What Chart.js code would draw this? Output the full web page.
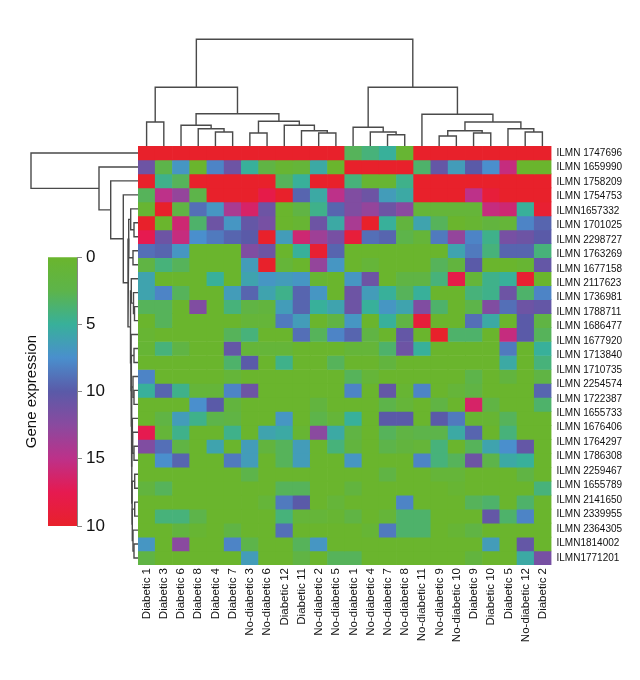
<!DOCTYPE html>
<html>
<head>
<meta charset="utf-8">
<title>Gene expression heatmap</title>
<script src="https://cdn.jsdelivr.net/npm/chart.js@4"></script>
<style>
  body { margin: 0; background: #fff; }
  #page { position: relative; width: 640px; height: 680px; overflow: hidden; }
  canvas { position: absolute; }
  #heat { left: 0; top: 0; }
  #topTree { left: 138px; top: 25px; }
  #leftTree { left: 20px; top: 146px; }
  #bar { left: 0; top: 235px; }
</style>
</head>
<body>
<div id="page">
  <canvas id="topTree" width="413" height="121"></canvas>
  <canvas id="leftTree" width="118" height="419"></canvas>
  <canvas id="heat" width="640" height="680"></canvas>
  <canvas id="bar" width="138" height="310"></canvas>
</div>
<script>
const sampleLabels = ['Diabetic 1','Diabetic 3','Diabetic 6','Diabetic 8','Diabetic 4','Diabetic 7','No-diabetic 3','No-diabetic 6','Diabetic 12','Diabetic 11','No-diabetic 2','No-diabetic 5','No-diabetic 1','No-diabetic 4','No-diabetic 7','No-diabetic 8','No-diabetic 11','No-diabetic 9','No-diabetic 10','Diabetic 9','Diabetic 10','Diabetic 5','No-diabetic 12','Diabetic 2'];

// the original figure prints 29 names next to 30 rows of cells
const geneLabels = ['ILMN 1747696','ILMN 1659990','ILMN 1758209','ILMN 1754753','ILMN1657332','ILMN 1701025','ILMN 2298727','ILMN 1763269','ILMN 1677158','ILMN 2117623','ILMN 1736981','ILMN 1788711','ILMN 1686477','ILMN 1677920','ILMN 1713840','ILMN 1710735','ILMN 2254574','ILMN 1722387','ILMN 1655733','ILMN 1676406','ILMN 1764297','ILMN 1786308','ILMN 2259467','ILMN 1655789','ILMN 2141650','ILMN 2339955','ILMN 2364305','ILMN1814002','ILMN1771201'];

const expression = [
  [20,20,20,20,20,20,20,20,20,20,20,20,3,4,5,0.5,20,20,20,20,20,20,20,20],
  [11,2.5,7,0,8,11,5,2,0.5,1,5.5,0,20,20,20,20,3.5,10.5,6.5,10,7.5,15.5,0,0],
  [20,4.5,3,20,20,20,20,20,3,5,20,20,4,0.5,0.5,4.5,20,20,20,20,20,20,20,20],
  [3,15,13,2.5,20,20,20,18,20,9.5,5.5,15,12,11,6.5,5.5,20,20,20,15,19,20,20,20],
  [0.5,20,2,9,7,14,16.5,11,0,2,4.5,9.5,12,13,11,12.5,1,1,1,1,15.5,16,5,19.5],
  [20,0,16,3.5,11,7,10.5,11.5,0,0.5,11,5.5,14,20,5,1.5,6,3,0,0.5,1.5,1,8,9.5],
  [17.5,11,15.5,7.5,8.5,9.5,10,20,6.5,16,13.5,11.5,19,9,9.5,2.5,1,8.5,13,8,4.5,11.5,11,10],
  [9,9.5,7,0,0,0,12,11,0,5,19.5,9.5,0,0,0,0,0,0,6,8.5,4,9.5,9.5,4],
  [2,4,3,0,0,0,6.5,20,1,0,13,7,0,1,0,0,0,3,1.5,10,0,0,0.5,10.5],
  [6,0,0,0,5,0,6,7,6.5,7,0.5,0,7,11,0,2,2,4,18,1,4.5,5,19.5,0],
  [6,8,3,0,0,6.5,9.5,6,4.5,9.5,7,0,11,6.5,5,3,5,0,0,4,4.5,11,3.5,8],
  [3,3,0,12,0,4,2,1.5,6.5,9.5,5,6,11,5,7,6,12,3.5,0,2.5,12,9,11,10.5],
  [0,3,0,0,0,0,1,1,8.5,6.5,0,2,7,0,5,2,19,0,0,9,5.5,0,10,2],
  [0.5,0,0,0,0,3,4,0,0,9,3,8,9.5,2,0,10.5,0,20,3.5,3.5,0,15.5,10,3],
  [0.7,4,2,0,0,10.5,1,1,1,0,0,0,1,1,3.5,11,5,0,0,0,0,8.5,0,5],
  [0,0,0,0,0,3.5,10,0,4.5,0,0,3,0,0,1.5,0,0,0,0,0,0,5.5,0,4],
  [8,0,0,0,0,1,0,0,0,0,0,0,3,1,0,0,0,0,0,2.5,0,1.5,0,2],
  [5,9.5,4.5,1,1,8,11,0,0,0,0,0,8,0,10.5,0.5,8,0,1,2,0,0,0,9.5],
  [0,0,0,7.5,10,1.5,0,0,0,0,1.5,0,0,0,2.5,1,0,2,0,16.5,2,0,0,3.5],
  [0,2,6.5,4.5,2.5,2,0,0,7,0,2.5,1,5,0,10,10,0,10,8.5,0.5,0.5,3,0,0],
  [17.5,1,4.5,0,0,4.5,0,6,5.5,0.5,12.5,5.5,2,0,3,2,2.5,2.5,5.5,9.5,0,4,0,0],
  [12,9,2,0,6,0,6.5,1.5,3,6.5,0,4,1.5,0,2.5,1.5,1,4,0,3,6,7.5,10.5,0],
  [0,7.5,9.5,0,0,8.5,6.5,0,3,6.5,0,0,7,0,0,0,8,4,3,11,2.5,5.5,5,0],
  [0,0,0,0,0,0,2.5,0,0,0,0,0,0,0,2,0,0,1,1,0,0,0,2,0],
  [1.5,3,0,0,0,0,0,0,3,3,0,0,1.5,0,0,0,0,0,0.5,0,0,0,0,4],
  [0,0,0,0,0,0,0,1,8.5,10,0,1,0,0,0,8,0,0,0,3,3.5,0,3.5,0],
  [0,4,4,2.5,0,0,0,0,4,1,1,0.5,2,0,1,3.5,3.5,0,0,0,10.5,3.5,8,0],
  [0,0,1.5,0.5,0,2,0,0,9,0,0,0,0,0.7,8.5,3.5,3.5,0,0.7,2,0,0,0,0],
  [7,0,12.5,0,0,8,2.5,0,0,3,7,0,0,0,0,0,0,0,0,0,6.5,0,10.5,0],
  [2,0,0,0,0,0,6.5,0,0,2,0,3,3,0,0,0,0,0,0,1.5,0,0,5.5,11.5]
];

const scaleStops = [0,2.5,5,7.5,10,12.5,15,17.5,20];
const scaleColors = ['#6ab52d','#5db44a','#38b09a','#4a8fcd','#5a5aa8','#8a4a9f','#bd3189','#e61a50','#e8212b'];
const scaleTicks = ['0','5','10','15','10'];

// merges are written the way R's hclust does: negative = leaf, positive = earlier merge
const topLeftChild = [-1,-5,-4,-3,-7,-11,-10,-9,5,4,1,-15,-14,-13,-18,-20,15,-23,-22,17,-17,14,11];
const topRightChild = [-2,-6,2,3,-8,-12,6,7,8,9,10,-16,12,13,-19,-21,16,-24,18,19,20,21,22];
const topHeights = [24,14,17.3,20.7,13,13,15.3,20.7,24.7,32.3,58.7,11.3,14,18.7,10,13,15.3,14,17.3,24,31.7,58.7,106.7];

const leftLeftChild = [-6,-5,-8,2,-12,-11,-10,-15,-29,-28,-26,11,-24,13,-22,-21,-20,17,-18,-17,20,8,-14,7,4,-4,-3,-2,-1];
const leftRightChild = [-7,1,-9,3,-13,5,6,-16,-30,9,-27,10,-25,12,-23,15,16,14,-19,19,18,21,22,23,24,25,26,27,28];
const leftHeights = [4,7.3,5,9.3,3.5,4.5,6.7,4,4,5,3.3,5.7,3.3,6,4,5.3,6,6.2,4,5,6.5,6.8,7,7.5,10,14.7,27.3,39,107];

const labelFont = "'Liberation Sans', sans-serif";

function hexToRgb(h) {
  return [1,3,5].map(function (i) { return parseInt(h.substr(i, 2), 16); });
}

function valueColor(v) {
  let i = 0;
  while (i < scaleStops.length - 2 && v > scaleStops[i + 1]) i++;
  const t = (v - scaleStops[i]) / (scaleStops[i + 1] - scaleStops[i]);
  const a = hexToRgb(scaleColors[i]), b = hexToRgb(scaleColors[i + 1]);
  const c = a.map(function (x, k) { return Math.round(x + (b[k] - x) * t); });
  return 'rgb(' + c.join(',') + ')';
}

// one dataset per row, each cell a floating bar over its row band
const heatSets = expression.map(function (row, r) {
  return {
    data: row.map(function () { return [r, r + 1]; }),
    backgroundColor: row.map(valueColor),
    borderWidth: 0,
    yAxisID: 'y'
  };
});

new Chart(document.getElementById('heat'), {
  type: 'bar',
  data: { labels: sampleLabels, datasets: heatSets },
  options: {
    responsive: false,
    animation: false,
    events: [],
    grouped: false,
    barPercentage: 1,
    categoryPercentage: 1,
    layout: { padding: { left: 138, top: 146, right: 0, bottom: 0 } },
    plugins: { legend: { display: false }, tooltip: { enabled: false } },
    scales: {
      x: {
        grid: { display: false, drawTicks: false },
        border: { display: false },
        ticks: { autoSkip: false, minRotation: 90, maxRotation: 90, padding: 3, color: '#111', font: { family: labelFont, size: 11.5 } },
        afterFit: function (s) { s.height = 115; }
      },
      y: { display: false, reverse: true, min: 0, max: expression.length },
      names: {
        type: 'category',
        labels: geneLabels,
        position: 'right',
        offset: true,
        grid: { display: false, drawTicks: false },
        border: { display: false },
        ticks: { autoSkip: false, padding: 5, color: '#111', font: { family: labelFont, size: 10 } },
        afterFit: function (s) { s.width = 88.5; }
      }
    }
  }
});

// walk the merge table and give back one U-shaped line per merge
function treeLines(leftChild, rightChild, heights, sideways) {
  const pos = [], sets = [];
  function place(id) {
    return id < 0 ? { at: -id - 1, h: 0 } : { at: pos[id - 1], h: heights[id - 1] };
  }
  heights.forEach(function (h, i) {
    const a = place(leftChild[i]), b = place(rightChild[i]);
    pos.push((a.at + b.at) / 2);
    const pts = [[a.at, a.h], [a.at, h], [b.at, h], [b.at, b.h]];
    sets.push({
      data: pts.map(function (p) { return sideways ? { x: p[1], y: p[0] } : { x: p[0], y: p[1] }; }),
      showLine: true,
      borderColor: '#4a4a4a',
      borderWidth: 1.4,
      pointRadius: 0,
      clip: false
    });
  });
  return sets;
}

new Chart(document.getElementById('topTree'), {
  type: 'scatter',
  data: { datasets: treeLines(topLeftChild, topRightChild, topHeights, false) },
  options: {
    responsive: false,
    animation: false,
    events: [],
    plugins: { legend: { display: false }, tooltip: { enabled: false } },
    scales: {
      x: { display: false, min: -0.5, max: sampleLabels.length - 0.5 },
      y: { display: false, min: 0, max: 121 }
    }
  }
});

new Chart(document.getElementById('leftTree'), {
  type: 'scatter',
  data: { datasets: treeLines(leftLeftChild, leftRightChild, leftHeights, true) },
  options: {
    responsive: false,
    animation: false,
    events: [],
    plugins: { legend: { display: false }, tooltip: { enabled: false } },
    scales: {
      x: { display: false, reverse: true, min: 0, max: 118 },
      y: { display: false, reverse: true, min: -0.5, max: expression.length - 0.5 }
    }
  }
});

function barGradient(ctx) {
  const chart = ctx.chart;
  if (!chart.chartArea) return scaleColors[0];
  const y = chart.scales.y;
  const g = chart.ctx.createLinearGradient(0, y.getPixelForValue(0), 0, y.getPixelForValue(20));
  scaleStops.forEach(function (s, i) { g.addColorStop(s / 20, scaleColors[i]); });
  return g;
}

new Chart(document.getElementById('bar'), {
  type: 'bar',
  data: {
    labels: [''],
    datasets: [{ data: [[0, 20]], backgroundColor: barGradient, borderWidth: 0, yAxisID: 'y' }]
  },
  options: {
    responsive: false,
    animation: false,
    events: [],
    barPercentage: 1,
    categoryPercentage: 1,
    layout: { padding: { top: 22, bottom: 19 } },
    plugins: { legend: { display: false }, tooltip: { enabled: false } },
    scales: {
      x: { display: false },
      y: {
        position: 'right',
        reverse: true,
        min: 0,
        max: 20,
        grid: { drawOnChartArea: false, color: '#888', tickLength: 5 },
        border: { color: '#888' },
        ticks: {
          stepSize: 5,
          padding: 4,
          color: '#111',
          font: { family: labelFont, size: 17 },
          callback: function (v) { return scaleTicks[v / 5]; }
        },
        afterFit: function (s) { s.width = 61; }
      },
      side: {
        position: 'left',
        grid: { display: false },
        border: { display: false },
        ticks: { display: false },
        title: { display: true, text: 'Gene expression', color: '#111', font: { family: labelFont, size: 15 }, padding: { top: 23, bottom: 0 } },
        afterFit: function (s) { s.width = 48; }
      }
    }
  }
});
</script>
</body>
</html>
